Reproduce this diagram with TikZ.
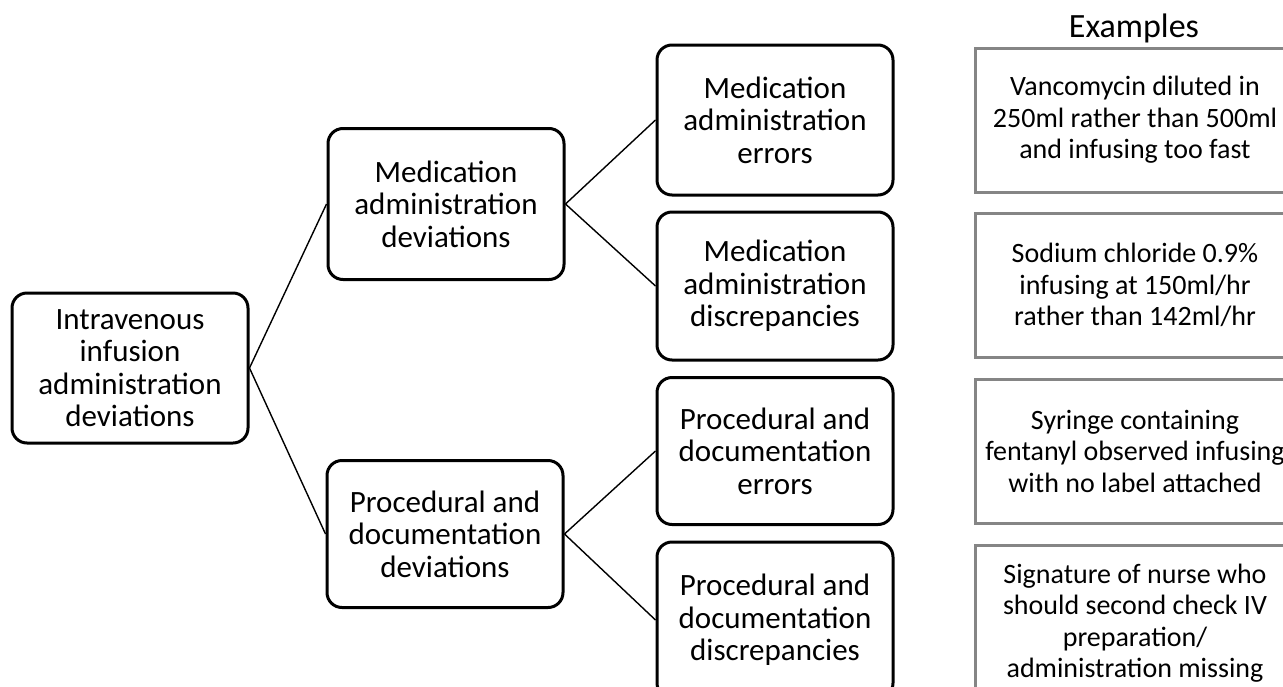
\documentclass[tikz,border=0pt]{standalone}
\usepackage{fontspec}
\setmainfont{Carlito}
\usetikzlibrary{positioning}

\tikzset{
  catbox/.style={draw=black,line width=3pt,rounded corners=15pt,fill=white,
    minimum width=236pt,minimum height=150pt,align=center,inner sep=2pt},
  exbox/.style={draw=black!48,line width=3pt,fill=white,
    minimum width=320pt,minimum height=144pt,align=center,inner sep=2pt,
    font=\fontsize{28}{31.5}\selectfont},
  branch/.style={draw=black,line width=1.4pt}
}

\begin{document}
\begin{tikzpicture}[x=1pt,y=-1pt,font=\fontsize{31}{32.5}\selectfont]
  \useasboundingbox (0,0) rectangle (1283,686);
  \clip (0,0) rectangle (1283,686);
  % Kategorien
  \node[catbox] (root) at (130,368) {Intravenous\\infusion\\administration\\deviations};
  \node[catbox,minimum height=151pt] (med) at (446,204) {Medication\\administration\\deviations};
  \node[catbox,minimum height=147pt] (proc) at (445,534) {Procedural and\\documentation\\deviations};
  \node[catbox] (mederr) at (775,120) {Medication\\administration\\errors};
  \node[catbox,minimum height=148pt] (meddis) at (775,286) {Medication\\administration\\discrepancies};
  \node[catbox,minimum height=147pt] (procerr) at (775,451) {Procedural and\\documentation\\errors};
  \node[catbox,minimum height=156pt] (procdis) at (775,620) {Procedural and\\documentation\\discrepancies};
  % Beispiele
  \node[font=\fontsize{34}{36}\selectfont] (extitle) at (1134,28) {Examples};
  \node[exbox] (ex1) at (1135,120) {Vancomycin diluted in\\250ml rather than 500ml\\and infusing too fast};
  \node[exbox] (ex2) at (1135,285) {Sodium chloride 0.9\%\\infusing at 150ml/hr\\rather than 142ml/hr};
  \node[exbox] (ex3) at (1135,451) {Syringe containing\\fentanyl observed infusing\\with no label attached};
  \node[exbox,minimum height=156pt] (ex4) at (1135,623) {Signature of nurse who\\should second check IV\\preparation/\\administration missing};
  % Verbindungen
  \draw[branch] (root.east) -- (med.west);
  \draw[branch] (root.east) -- (proc.west);
  \draw[branch] (med.east) -- (mederr.west);
  \draw[branch] (med.east) -- (meddis.west);
  \draw[branch] (proc.east) -- (procerr.west);
  \draw[branch] (proc.east) -- (procdis.west);
\end{tikzpicture}
\end{document}
